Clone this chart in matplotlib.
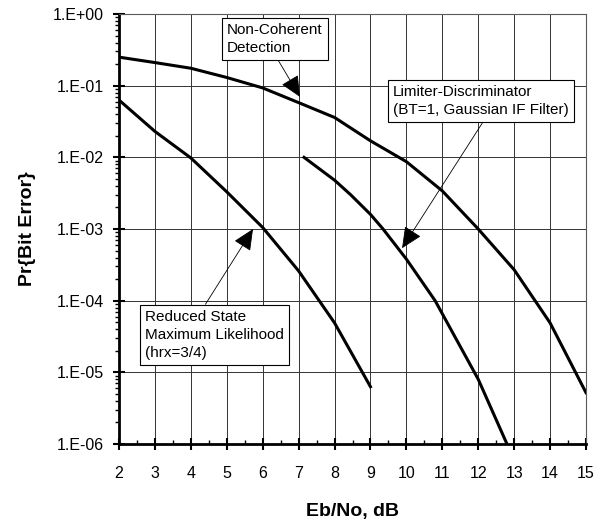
import matplotlib
matplotlib.use('Agg')
import matplotlib.pyplot as plt
import matplotlib.ticker as ticker
import numpy as np

plt.rcParams['font.family'] = ['Liberation Sans', 'DejaVu Sans']

# Eb/No (dB) and bit error probability
ebno_nc = [2, 3, 4, 5, 6, 7, 8, 9, 10, 11, 12, 13, 14, 15]
pe_nc = [0.25, 0.21, 0.175, 0.13, 0.093, 0.058, 0.036, 0.017, 0.0087,
         0.0034, 0.0010, 2.7e-4, 4.9e-5, 5.2e-6]

ebno_ld = [7.15, 8, 8.45, 9, 9.35, 10, 10.8, 12, 12.8]
pe_ld = [1.0e-2, 4.8e-3, 3.0e-3, 1.6e-3, 1.0e-3, 3.8e-4, 1.0e-4, 8.0e-6, 1.0e-6]

ebno_rs = [2, 3, 4, 5, 6, 7, 8, 9]
pe_rs = [0.063, 0.023, 0.0098, 0.0033, 1.05e-3, 2.6e-4, 4.9e-5, 6.3e-6]

x_ticks = list(range(2, 16))
y_ticks = [1e0, 1e-1, 1e-2, 1e-3, 1e-4, 1e-5, 1e-6]

fig = plt.figure(figsize=(6.02, 5.19), dpi=100)
ax = fig.add_axes([119/602, 1 - 444/519, (586-119)/602, (444-14)/519])

for xs, ys in [(ebno_nc, pe_nc), (ebno_ld, pe_ld), (ebno_rs, pe_rs)]:
    ax.plot(xs, ys, color='black', lw=2.2, zorder=3)

ax.set_yscale('log')
ax.set_xlim(2, 15)
ax.set_ylim(1e-6, 1)
ax.set_xticks(x_ticks)
ax.xaxis.set_minor_locator(ticker.MultipleLocator(0.5))
ax.set_yticks(y_ticks)
ax.yaxis.set_minor_locator(ticker.LogLocator(base=10, subs=np.arange(2, 10), numticks=20))
ax.yaxis.set_minor_formatter(ticker.NullFormatter())
ax.yaxis.set_major_formatter(ticker.FuncFormatter(
    lambda v, p: '1.E%+03d' % int(round(np.log10(v)))))

ax.grid(True, which='major', color='0.2', lw=0.7)
ax.tick_params(which='major', direction='inout', length=8, width=1.5, labelsize=11.5)
ax.tick_params(axis='x', which='major', pad=12)
ax.tick_params(axis='y', which='major', pad=7)
ax.tick_params(axis='y', which='minor', direction='out', length=3, width=1)
ax.tick_params(axis='x', which='minor', direction='in', length=3, width=1)

for s in ['left', 'bottom']:
    ax.spines[s].set_linewidth(2)
for s in ['top', 'right']:
    ax.spines[s].set_linewidth(0.8)
    ax.spines[s].set_color('0.35')

ax.set_xlabel('Eb/No, dB', fontsize=14, fontweight='bold', labelpad=16)
ax.set_ylabel('Pr{Bit Error}', fontsize=14, fontweight='bold', labelpad=12)

box = dict(boxstyle='square,pad=0.35', fc='white', ec='black', lw=0.8)

def arrow(rel):
    return dict(arrowstyle='-|>,head_length=1.2,head_width=0.55', color='black',
                lw=0.6, relpos=rel, shrinkA=0, shrinkB=0)

ax.annotate('Non-Coherent\nDetection', xy=(7.04, 0.0695), xytext=(5.01, 0.75),
            ha='left', va='top', fontsize=11, linespacing=1.35, bbox=box,
            arrowprops=arrow((0.5, 0)), zorder=5)
ax.annotate('Limiter-Discriminator\n(BT=1, Gaussian IF Filter)', xy=(9.88, 5.4e-4),
            xytext=(9.63, 0.102), ha='left', va='top', fontsize=11, linespacing=1.35,
            bbox=box, arrowprops=arrow((0.53, 0)), zorder=5)
ax.annotate('Reduced State\nMaximum Likelihood\n(hrx=3/4)', xy=(5.73, 1.0e-3),
            xytext=(2.72, 7.4e-5), ha='left', va='top', fontsize=11, linespacing=1.35,
            bbox=box, arrowprops=arrow((0.41, 1)), zorder=5)

fig.savefig('out.png', dpi=100)
